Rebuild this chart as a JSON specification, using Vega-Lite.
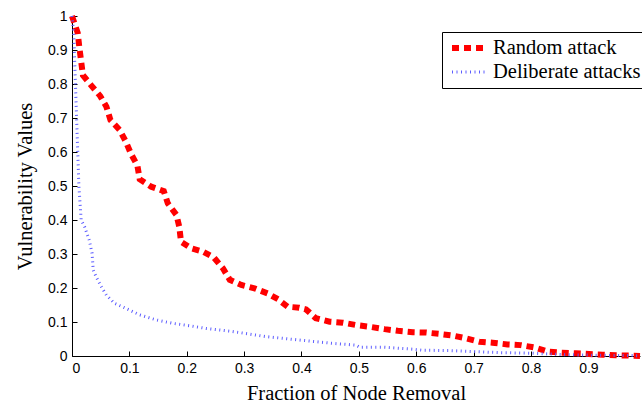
{
  "$schema": "https://vega.github.io/schema/vega-lite/v6.json",
  "width": 568,
  "height": 340,
  "autosize": "none",
  "padding": {"left": 72, "top": 16, "right": 2, "bottom": 53},
  "background": "white",
  "config": {
    "view": {"stroke": null},
    "axis": {
      "domainColor": "black",
      "domainWidth": 1,
      "tickColor": "black",
      "tickWidth": 1,
      "tickSize": -5,
      "grid": false,
      "format": "~g",
      "labelFont": "Liberation Sans",
      "labelFontSize": 14,
      "labelColor": "black",
      "titleFont": "Liberation Serif",
      "titleFontSize": 20.5,
      "titleFontWeight": "normal",
      "titleColor": "black"
    }
  },
  "data": {
    "values": [
      {"x": 0.0, "y": 1.0, "series": "Random attack"},
      {"x": 0.01, "y": 0.95, "series": "Random attack"},
      {"x": 0.013, "y": 0.905, "series": "Random attack"},
      {"x": 0.016, "y": 0.866, "series": "Random attack"},
      {"x": 0.019, "y": 0.826, "series": "Random attack"},
      {"x": 0.033, "y": 0.797, "series": "Random attack"},
      {"x": 0.049, "y": 0.765, "series": "Random attack"},
      {"x": 0.06, "y": 0.733, "series": "Random attack"},
      {"x": 0.067, "y": 0.694, "series": "Random attack"},
      {"x": 0.083, "y": 0.665, "series": "Random attack"},
      {"x": 0.094, "y": 0.63, "series": "Random attack"},
      {"x": 0.103, "y": 0.594, "series": "Random attack"},
      {"x": 0.114, "y": 0.56, "series": "Random attack"},
      {"x": 0.118, "y": 0.52, "series": "Random attack"},
      {"x": 0.138, "y": 0.498, "series": "Random attack"},
      {"x": 0.16, "y": 0.485, "series": "Random attack"},
      {"x": 0.167, "y": 0.449, "series": "Random attack"},
      {"x": 0.182, "y": 0.415, "series": "Random attack"},
      {"x": 0.187, "y": 0.38, "series": "Random attack"},
      {"x": 0.19, "y": 0.336, "series": "Random attack"},
      {"x": 0.208, "y": 0.317, "series": "Random attack"},
      {"x": 0.228, "y": 0.307, "series": "Random attack"},
      {"x": 0.247, "y": 0.29, "series": "Random attack"},
      {"x": 0.263, "y": 0.258, "series": "Random attack"},
      {"x": 0.275, "y": 0.224, "series": "Random attack"},
      {"x": 0.295, "y": 0.209, "series": "Random attack"},
      {"x": 0.318, "y": 0.199, "series": "Random attack"},
      {"x": 0.341, "y": 0.184, "series": "Random attack"},
      {"x": 0.359, "y": 0.167, "series": "Random attack"},
      {"x": 0.376, "y": 0.145, "series": "Random attack"},
      {"x": 0.396, "y": 0.142, "series": "Random attack"},
      {"x": 0.408, "y": 0.137, "series": "Random attack"},
      {"x": 0.425, "y": 0.111, "series": "Random attack"},
      {"x": 0.449, "y": 0.101, "series": "Random attack"},
      {"x": 0.472, "y": 0.098, "series": "Random attack"},
      {"x": 0.495, "y": 0.091, "series": "Random attack"},
      {"x": 0.519, "y": 0.086, "series": "Random attack"},
      {"x": 0.545, "y": 0.079, "series": "Random attack"},
      {"x": 0.568, "y": 0.074, "series": "Random attack"},
      {"x": 0.594, "y": 0.07, "series": "Random attack"},
      {"x": 0.617, "y": 0.069, "series": "Random attack"},
      {"x": 0.64, "y": 0.065, "series": "Random attack"},
      {"x": 0.664, "y": 0.06, "series": "Random attack"},
      {"x": 0.687, "y": 0.052, "series": "Random attack"},
      {"x": 0.71, "y": 0.042, "series": "Random attack"},
      {"x": 0.733, "y": 0.039, "series": "Random attack"},
      {"x": 0.759, "y": 0.034, "series": "Random attack"},
      {"x": 0.782, "y": 0.032, "series": "Random attack"},
      {"x": 0.806, "y": 0.025, "series": "Random attack"},
      {"x": 0.829, "y": 0.013, "series": "Random attack"},
      {"x": 0.852, "y": 0.01, "series": "Random attack"},
      {"x": 0.878, "y": 0.008, "series": "Random attack"},
      {"x": 0.901, "y": 0.006, "series": "Random attack"},
      {"x": 0.925, "y": 0.004, "series": "Random attack"},
      {"x": 0.948, "y": 0.002, "series": "Random attack"},
      {"x": 0.974, "y": 0.001, "series": "Random attack"},
      {"x": 0.99, "y": 0.0, "series": "Random attack"},
      {"x": 0.0, "y": 1.0, "series": "Deliberate attacks"},
      {"x": 0.003, "y": 0.95, "series": "Deliberate attacks"},
      {"x": 0.005, "y": 0.85, "series": "Deliberate attacks"},
      {"x": 0.007, "y": 0.75, "series": "Deliberate attacks"},
      {"x": 0.01, "y": 0.6, "series": "Deliberate attacks"},
      {"x": 0.012, "y": 0.5, "series": "Deliberate attacks"},
      {"x": 0.016, "y": 0.4, "series": "Deliberate attacks"},
      {"x": 0.022, "y": 0.38, "series": "Deliberate attacks"},
      {"x": 0.03, "y": 0.341, "series": "Deliberate attacks"},
      {"x": 0.035, "y": 0.302, "series": "Deliberate attacks"},
      {"x": 0.037, "y": 0.253, "series": "Deliberate attacks"},
      {"x": 0.042, "y": 0.233, "series": "Deliberate attacks"},
      {"x": 0.051, "y": 0.204, "series": "Deliberate attacks"},
      {"x": 0.06, "y": 0.179, "series": "Deliberate attacks"},
      {"x": 0.074, "y": 0.155, "series": "Deliberate attacks"},
      {"x": 0.094, "y": 0.14, "series": "Deliberate attacks"},
      {"x": 0.118, "y": 0.121, "series": "Deliberate attacks"},
      {"x": 0.147, "y": 0.106, "series": "Deliberate attacks"},
      {"x": 0.176, "y": 0.096, "series": "Deliberate attacks"},
      {"x": 0.205, "y": 0.089, "series": "Deliberate attacks"},
      {"x": 0.234, "y": 0.081, "series": "Deliberate attacks"},
      {"x": 0.28, "y": 0.072, "series": "Deliberate attacks"},
      {"x": 0.338, "y": 0.057, "series": "Deliberate attacks"},
      {"x": 0.396, "y": 0.047, "series": "Deliberate attacks"},
      {"x": 0.455, "y": 0.037, "series": "Deliberate attacks"},
      {"x": 0.495, "y": 0.032, "series": "Deliberate attacks"},
      {"x": 0.501, "y": 0.026, "series": "Deliberate attacks"},
      {"x": 0.542, "y": 0.026, "series": "Deliberate attacks"},
      {"x": 0.594, "y": 0.02, "series": "Deliberate attacks"},
      {"x": 0.61, "y": 0.017, "series": "Deliberate attacks"},
      {"x": 0.658, "y": 0.016, "series": "Deliberate attacks"},
      {"x": 0.699, "y": 0.013, "series": "Deliberate attacks"},
      {"x": 0.745, "y": 0.01, "series": "Deliberate attacks"},
      {"x": 0.803, "y": 0.008, "series": "Deliberate attacks"},
      {"x": 0.86, "y": 0.004, "series": "Deliberate attacks"},
      {"x": 0.92, "y": 0.002, "series": "Deliberate attacks"},
      {"x": 0.99, "y": 0.001, "series": "Deliberate attacks"}
    ]
  },
  "mark": {"type": "line", "strokeCap": "butt", "strokeJoin": "miter"},
  "encoding": {
    "x": {
      "field": "x",
      "type": "quantitative",
      "scale": {"domain": [0, 0.99], "nice": false, "zero": false},
      "axis": {
        "title": "Fraction of Node Removal",
        "values": [0, 0.1, 0.2, 0.3, 0.4, 0.5, 0.6, 0.7, 0.8, 0.9],
        "labelPadding": 10,
        "titlePadding": 8
      }
    },
    "y": {
      "field": "y",
      "type": "quantitative",
      "scale": {"domain": [0, 1], "nice": false},
      "axis": {
        "title": "Vulnerability Values",
        "values": [0, 0.1, 0.2, 0.3, 0.4, 0.5, 0.6, 0.7, 0.8, 0.9, 1],
        "labelPadding": 10,
        "titlePadding": 12
      }
    },
    "color": {
      "field": "series",
      "type": "nominal",
      "scale": {"domain": ["Random attack", "Deliberate attacks"], "range": ["#ff0000", "#5c5cff"]},
      "legend": {
        "title": null,
        "orient": "none",
        "legendX": 370,
        "legendY": 16,
        "strokeColor": "black",
        "fillColor": "white",
        "padding": 4,
        "rowPadding": 0,
        "clipHeight": 24,
        "labelFont": "Liberation Serif",
        "labelFontSize": 20.5,
        "labelColor": "black",
        "labelOffset": 3,
        "symbolType": "stroke",
        "symbolSize": 1225,
        "symbolOffset": 3,
        "labelLimit": 400
      }
    },
    "strokeDash": {
      "field": "series",
      "type": "nominal",
      "scale": {"domain": ["Random attack", "Deliberate attacks"], "range": [[7, 5], [1, 3.5]]},
      "legend": {"title": null}
    },
    "strokeWidth": {
      "field": "series",
      "type": "nominal",
      "scale": {"domain": ["Random attack", "Deliberate attacks"], "range": [6, 3]},
      "legend": {"title": null}
    }
  }
}
